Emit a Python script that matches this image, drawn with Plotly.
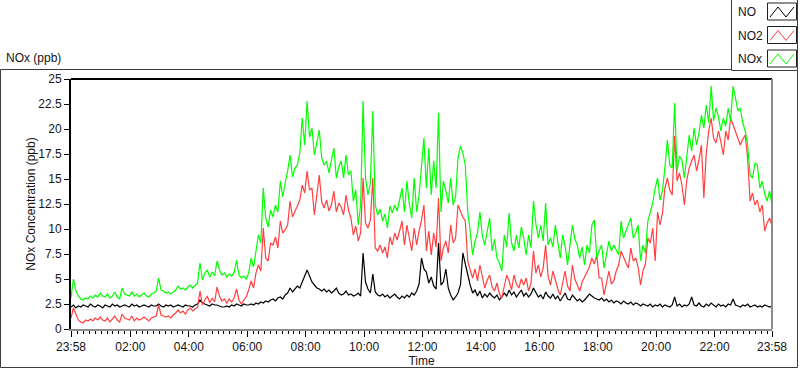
import plotly.graph_objects as go

# ---------------- data (5-minute samples starting 23:58) ----------------
step_minutes = 5

no_ppb = [
    2.2, 2.4, 2.1, 2.3, 2.2, 2.4, 2.3, 2.2, 2.5, 2.3,
    2.2, 2.4, 2.3, 2.1, 2.4, 2.3, 2.2, 2.5, 2.3, 2.4,
    2.2, 2.3, 2.4, 2.3, 2.2, 2.5, 2.3, 2.4, 2.2, 2.3,
    2.4, 2.3, 2.2, 2.4, 2.3, 2.3, 2.5, 2.3, 2.2, 2.4,
    2.3, 2.4, 2.2, 2.3, 2.4, 2.3, 2.2, 2.4, 2.3, 2.3,
    2.2, 2.4, 2.5, 2.9, 2.6, 2.5, 2.4, 2.3, 2.5, 2.4,
    2.4, 2.3, 2.2, 2.2, 2.3, 2.2, 2.4, 2.3, 2.5, 2.4,
    2.3, 2.5, 2.4, 2.4, 2.5, 2.4, 2.6, 2.5, 2.7, 2.6,
    2.8, 2.7, 2.9, 3.0, 2.8, 3.1, 3.2, 3.0, 3.4, 3.6,
    4.1, 3.7, 4.0, 4.3, 4.1, 4.8, 5.3, 5.9, 5.2, 4.7,
    4.4, 4.1, 4.0, 3.8, 4.0, 3.7, 3.9, 3.6, 3.8, 4.1,
    3.6, 3.4, 3.5, 3.8, 3.4, 3.5, 3.3, 3.4, 3.6, 3.3,
    7.6, 4.7, 4.0, 3.6, 5.5, 3.7, 3.4, 3.3, 3.5, 3.2,
    3.4, 3.1, 3.3, 3.5, 3.2, 3.0, 3.3, 3.1, 3.4, 3.2,
    3.6, 3.4, 3.8, 4.5, 7.1, 6.0, 5.7, 4.6, 5.2, 4.3,
    4.0, 8.6, 4.4, 4.7, 6.0, 4.1, 3.4, 2.9, 3.2, 3.6,
    4.4, 7.6, 6.5, 5.4, 4.4, 3.6, 3.9, 3.3, 3.8, 3.1,
    3.5, 3.2, 3.6, 3.3, 3.1, 3.4, 2.9, 3.2, 3.6, 3.3,
    3.9, 3.4, 3.7, 3.2, 3.5, 3.9, 3.3, 3.6, 3.2, 3.5,
    4.1, 3.6, 3.2, 3.4, 3.0, 3.7, 3.3, 3.1, 3.5, 3.0,
    3.3, 2.8, 3.2, 3.6, 3.0, 2.9, 3.4, 3.1, 2.8, 3.0,
    2.7, 2.9, 3.2, 3.5, 3.3, 3.1, 3.0, 2.9, 3.1, 2.8,
    3.0, 2.7, 2.9, 2.6, 2.8, 2.7, 2.5, 2.8, 2.6, 2.5,
    2.7, 2.4, 2.6, 2.5, 2.3, 2.5, 2.4, 2.3, 2.5, 2.2,
    2.4, 2.3, 2.5, 2.2, 2.4, 2.3, 2.2, 2.4, 3.2, 2.3,
    2.5, 2.2, 2.4, 2.3, 2.5, 3.2, 2.4, 2.3, 2.6, 2.3,
    2.2, 2.5, 2.3, 2.6, 2.4, 2.2, 2.5, 2.3, 2.4, 2.2,
    2.5, 2.4, 3.0, 2.4, 2.3, 2.2, 2.4, 2.3, 2.5, 2.2,
    2.3, 2.4, 2.2, 2.3, 2.2, 2.4, 2.3, 2.2, 2.3,
]

no2_ppb = [
    1.1, 2.1, 1.5, 0.9, 0.7, 0.6, 0.9, 0.8, 1.0, 0.8,
    1.1, 0.9, 1.2, 0.9, 0.8, 1.1, 0.7, 1.0, 1.3, 0.9,
    0.7, 1.5, 1.1, 1.0, 0.9, 1.3, 0.8, 1.1, 0.9, 1.0,
    1.2, 1.0, 0.8, 1.1, 1.2, 1.3, 2.4, 1.4, 1.3, 1.2,
    1.3, 1.1, 1.4, 1.6, 1.9, 1.6, 1.8, 1.5, 1.9, 2.1,
    1.8, 2.0, 2.2, 3.8, 2.4, 2.9, 3.3, 2.6, 3.1, 2.7,
    4.2, 3.3, 2.8, 3.0, 2.6, 3.0, 2.7, 3.1, 4.0, 2.9,
    2.5, 2.9, 3.2, 3.9, 4.8, 4.1, 5.6, 6.4, 5.8, 10.1,
    7.1, 6.8, 8.6, 8.4, 9.2, 8.1, 10.8, 9.6, 9.9, 10.4,
    12.8, 11.2, 11.7, 12.3, 12.9, 14.4, 13.6, 15.8, 13.9, 14.1,
    11.4, 13.2, 15.4, 12.7, 12.1, 12.9, 11.8, 12.4, 13.8, 11.7,
    12.6, 12.2, 11.4, 13.4, 11.9, 11.1, 9.4, 10.3, 8.8, 9.6,
    15.1, 10.6, 10.1, 10.9, 15.1, 8.1, 7.8, 8.4, 7.6, 8.2,
    7.1, 9.2, 8.4, 9.6, 8.9, 9.8, 10.8, 8.4, 10.4, 9.1,
    7.8, 10.1, 8.4, 9.8, 10.9, 12.4, 7.8, 9.8, 7.4, 9.6,
    8.2, 13.1, 6.8, 8.1, 8.8, 7.6, 10.4, 8.6, 9.1, 12.4,
    11.7, 11.2, 10.8, 6.8, 5.9, 5.1, 6.0, 4.8, 6.4, 5.2,
    4.1, 4.9, 5.4, 4.2, 3.8, 4.6, 3.5, 3.1, 4.2, 5.4,
    4.8, 3.9, 5.4, 4.5, 4.1, 5.0, 4.4, 5.1, 3.8, 4.6,
    7.8, 5.6, 6.4, 5.2, 6.1, 8.4, 5.3, 4.4, 5.8, 4.9,
    4.0, 3.4, 4.6, 5.8, 4.3, 3.8, 6.4, 5.0, 4.4, 3.8,
    4.7, 5.2, 5.8, 6.2, 7.1, 6.5, 7.4, 5.1, 5.1, 3.4,
    4.6, 5.8, 4.5, 4.8, 5.8, 6.4, 7.8, 7.1, 6.6, 6.1,
    8.1, 6.8, 7.1, 6.2, 4.4, 5.8, 6.5, 9.1, 8.6, 10.1,
    6.8, 11.7, 10.4, 11.6, 14.1, 15.1, 13.9, 13.4, 19.3, 14.8,
    15.6, 14.4, 12.4, 14.9, 16.1, 16.8, 17.4, 15.8, 16.9, 18.4,
    13.1, 17.6, 19.8, 21.1, 19.1, 18.6, 19.8, 18.7, 17.4, 19.8,
    18.9, 21.1, 20.4, 19.6, 19.1, 18.4, 19.0, 19.4, 17.1, 12.8,
    13.6, 12.4, 12.9, 11.7, 12.4, 9.8, 10.6, 11.1, 10.3,
]

nox_ppb = [
    3.1, 5.0, 3.8, 3.3, 3.0, 2.9, 3.1, 3.0, 3.3, 3.1,
    3.4, 3.2, 3.6, 3.3, 3.2, 3.5, 3.1, 3.3, 3.7, 3.2,
    3.0, 4.1, 3.5, 3.4, 3.3, 3.7, 3.3, 3.5, 3.2, 3.4,
    3.6, 3.3, 3.2, 3.5, 3.6, 3.8, 5.1, 3.9, 3.8, 3.6,
    3.7, 3.5, 3.7, 3.9, 4.3, 4.0, 4.1, 3.9, 4.2, 4.4,
    4.1, 4.4, 4.6, 6.6, 4.9, 5.6, 5.9, 5.2, 5.7, 5.3,
    6.8, 5.9, 5.4, 5.6, 5.2, 5.5, 5.3, 5.6, 6.9, 5.4,
    5.1, 5.3, 5.0, 5.6, 7.1, 6.2, 7.8, 9.4, 8.6, 14.1,
    11.1, 10.2, 11.9, 11.2, 12.4, 11.7, 14.8, 13.2, 14.6, 15.8,
    17.4, 15.2, 16.1, 16.4, 17.6, 21.1, 18.4, 22.8, 19.2, 20.1,
    17.4, 18.6, 19.9, 17.1, 16.4, 16.8, 15.6, 16.9, 18.1, 15.1,
    16.2, 16.8, 15.1, 17.4, 15.4, 15.8, 12.8, 13.9, 10.4, 12.4,
    22.8, 15.1, 13.4, 14.6, 21.8, 12.4, 11.4, 12.0, 10.8, 11.5,
    10.1, 12.3, 11.6, 12.4, 11.8, 12.9, 14.1, 11.7, 14.8, 12.5,
    11.1, 15.1, 11.7, 13.4, 16.2, 19.1, 14.1, 18.1, 13.4, 16.8,
    14.1, 21.6, 11.7, 14.8, 13.8, 12.6, 15.1, 12.4, 13.2, 17.1,
    18.3, 17.6, 16.4, 11.7, 9.8, 7.4, 8.8, 9.6, 11.7, 9.3,
    8.4, 9.8, 11.1, 7.8, 9.0, 7.1, 6.6, 5.8, 9.4, 8.2,
    11.6, 8.6, 7.8, 9.4, 8.1, 10.2, 9.1, 7.4, 9.4, 8.1,
    12.8, 10.5, 9.1, 10.4, 8.8, 12.6, 8.4, 9.1, 8.2, 10.4,
    8.9, 7.1, 9.4, 8.3, 6.4, 8.6, 10.4, 9.0, 8.4, 7.1,
    8.2, 6.4, 8.4, 7.6, 10.4, 10.9, 7.1, 7.8, 8.4, 6.1,
    7.3, 8.8, 7.8, 8.4, 7.9, 7.4, 10.8, 9.1, 9.8, 10.4,
    11.1, 9.1, 9.6, 10.4, 6.8, 8.4, 7.6, 10.8, 11.7, 12.6,
    14.1, 15.1, 12.9, 13.8, 16.1, 18.9, 16.4, 16.1, 22.6, 15.8,
    17.3, 16.9, 15.1, 17.1, 19.4, 17.8, 20.1, 18.4, 19.6, 21.4,
    20.1, 22.4, 20.6, 24.3, 20.8, 22.1, 21.2, 19.8, 21.1, 20.3,
    22.1, 20.8, 24.3, 23.1, 21.8, 22.1, 20.6, 19.8, 18.4, 15.4,
    15.1, 16.6, 16.4, 14.1, 14.8, 13.5, 12.8, 13.8, 12.4,
]

series_names = ["NO", "NO2", "NOx"]
series_colors = ["#000000", "#ff4040", "#00ff00"]

x_tick_minutes = [0, 122, 242, 362, 482, 602, 722, 842, 962, 1082, 1202, 1322, 1440]
x_tick_labels = ["23:58", "02:00", "04:00", "06:00", "08:00", "10:00", "12:00",
                 "14:00", "16:00", "18:00", "20:00", "22:00", "23:58"]

# ---------------- geometry helpers (pixels -> paper) ----------------
W, H = 800, 369
L, R, T, B = 71, 28, 79, 40
PW, PH = W - L - R, H - T - B


def px(x):
    return (x - L) / PW


def py(y):
    return (H - B - y) / PH


fig = go.Figure()
for name, vals, col in zip(series_names, [no_ppb, no2_ppb, nox_ppb], series_colors):
    t = [k * step_minutes for k in range(len(vals))]
    fig.add_trace(go.Scatter(x=t, y=vals, mode="lines", name=name,
                             line=dict(color=col, width=1.2),
                             showlegend=False, hoverinfo="skip"))

font_main = "Liberation Sans, Arial, sans-serif"
txt = "#141414"

minor_vals = [m for m in range(14, 1440, 12) if m not in x_tick_minutes]

fig.update_layout(
    width=W, height=H, autosize=False,
    margin=dict(l=L, r=R, t=T, b=B, autoexpand=False),
    paper_bgcolor="white", plot_bgcolor="white",
    font=dict(family=font_main, size=12, color=txt),
    xaxis=dict(range=[0, 1440], tickmode="array", tickvals=x_tick_minutes,
               ticktext=x_tick_labels, ticks="outside", ticklen=6,
               tickcolor="#000000", tickwidth=1, showgrid=False, zeroline=False,
               showline=True, linecolor="#8c8c8c", linewidth=2, automargin=False,
               tickfont=dict(size=12, color=txt),
               minor=dict(tickmode="array", tickvals=minor_vals, ticks="outside",
                          ticklen=3, tickcolor="#000000", showgrid=False),
               title=dict(text="Time", font=dict(size=12, color=txt), standoff=2)),
    yaxis=dict(range=[0, 25], dtick=2.5, tick0=0, ticks="outside", ticklen=5,
               tickcolor="#000000", showgrid=False, zeroline=False,
               showline=True, linecolor="#000000", linewidth=2, automargin=False,
               tickfont=dict(size=12, color=txt),
               title=dict(text="NOx Concentration (ppb)",
                          font=dict(size=12, color=txt), standoff=0)),
)

shapes = []
# outer frame of the chart
shapes.append(dict(type="rect", xref="paper", yref="paper",
                   x0=px(0.5), x1=px(797.5), y0=py(367.5), y1=py(69.5),
                   line=dict(color="#3c3c3c", width=1), fillcolor="rgba(0,0,0,0)", layer="below"))
# plot frame: top black, right grey
shapes.append(dict(type="line", xref="paper", yref="paper", x0=0, x1=1, y0=1, y1=1,
                   line=dict(color="#000000", width=2)))
shapes.append(dict(type="line", xref="paper", yref="paper", x0=1, x1=1, y0=0, y1=1,
                   line=dict(color="#8c8c8c", width=2)))
# legend box
shapes.append(dict(type="rect", xref="paper", yref="paper",
                   x0=px(731.5), x1=px(797.5), y0=py(70.5), y1=py(-2),
                   line=dict(color="#3c3c3c", width=1), fillcolor="white"))

annotations = [dict(text="NOx (ppb)", xref="paper", yref="paper", x=px(4), y=py(58),
                    xanchor="left", yanchor="middle", showarrow=False,
                    font=dict(size=12, color=txt))]

for k, (name, col) in enumerate(zip(series_names, series_colors)):
    top = 3 + 23.5 * k
    shapes.append(dict(type="rect", xref="paper", yref="paper",
                       x0=px(767.5), x1=px(796.5), y0=py(top + 17), y1=py(top),
                       line=dict(color="#202020", width=1), fillcolor="white"))
    pts = [(770, top + 14), (778, top + 4), (786, top + 14), (794, top + 4)]
    path = "M " + " L ".join(f"{px(a):.5f},{py(b):.5f}" for a, b in pts)
    shapes.append(dict(type="path", xref="paper", yref="paper", path=path,
                       line=dict(color=col, width=1)))
    annotations.append(dict(text=name, xref="paper", yref="paper", x=px(736),
                            y=py(top + 9), xanchor="left", yanchor="middle",
                            showarrow=False, font=dict(size=12, color=txt)))

fig.update_layout(shapes=shapes, annotations=annotations)
fig.write_html("out.html", config={"displayModeBar": False, "staticPlot": True},
               post_script="document.body.style.margin='0';document.body.style.overflow='hidden';")
